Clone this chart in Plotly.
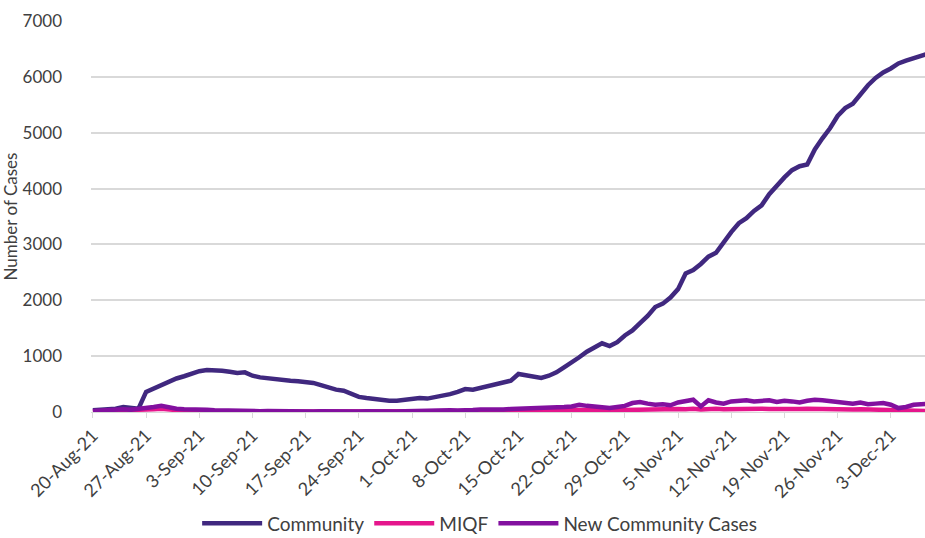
import pandas as pd
import plotly.graph_objects as go

start_date = "2021-08-20"
n_days = 111
dates = pd.date_range(start_date, periods=n_days, freq="D")

community = [
    30, 40, 50, 60, 90, 70, 60,
    360, 420, 500, 560, 600, 640, 690,
    730, 750, 750, 740, 720, 700, 710,
    650, 620, 600, 580, 570, 560, 550,
    540, 520, 480, 430, 400, 380, 320,
    270, 250, 230, 220, 200, 200, 220,
    240, 250, 240, 260, 290, 320, 360,
    410, 400, 430, 460, 490, 520, 560,
    680, 650, 620, 610, 650, 710, 800,
    880, 980, 1080, 1150, 1230, 1180, 1250,
    1370, 1460, 1590, 1720, 1880, 1940, 2050,
    2200, 2480, 2540, 2650, 2780, 2850, 3050,
    3220, 3380, 3470, 3600, 3700, 3900, 4060,
    4200, 4330, 4400, 4430, 4700, 4900, 5080,
    5300, 5440, 5520, 5700, 5850, 5980, 6080,
    6150, 6240, 6290, 6330, 6390, 6420,
]

miqf = [
    10, 15, 20, 15, 20, 15, 20,
    30, 50, 60, 40, 30, 20, 15,
    10, 10, 5, 5, 5, 5, 5,
    5, 5, 5, 5, 5, 5, 5,
    5, 5, 5, 5, 5, 5, 5,
    5, 5, 5, 5, 5, 5, 5,
    5, 10, 5, 10, 10, 15, 10,
    15, 10, 15, 20, 15, 20, 20,
    25, 20, 30, 25, 30, 35, 30,
    35, 40, 35, 30, 35, 30, 35,
    40, 45, 40, 50, 45, 55, 50,
    55, 50, 60, 45, 55, 60, 50,
    55, 60, 50, 55, 60, 55, 50,
    55, 50, 55, 60, 55, 50, 55,
    50, 55, 45, 50, 45, 40, 45,
    20, 15, 20, 15, 20, 15,
]

new_community = [
    20, 30, 40, 30, 50, 40, 50,
    60, 90, 110, 80, 60, 50, 40,
    50, 40, 30, 25, 20, 20, 25,
    20, 15, 20, 15, 20, 15, 10,
    15, 10, 15, 10, 10, 15, 10,
    10, 15, 10, 10, 15, 10, 15,
    20, 15, 20, 25, 20, 30, 25,
    40, 35, 45, 40, 50, 45, 55,
    60, 55, 65, 70, 60, 80, 90,
    100, 130, 110, 90, 80, 70, 90,
    110, 160, 180, 150, 130, 140, 120,
    170, 200, 220, 100, 210, 170, 150,
    190, 200, 210, 190, 200, 210, 180,
    200, 190, 170, 200, 220, 210, 200,
    180, 160, 150, 170, 140, 150, 160,
    130, 70, 90, 130, 140, 150,
]

series_names = ["Community", "MIQF", "New Community Cases"]
series_colors = ["#40287f", "#e5168c", "#82109f"]
y_title = "Number of Cases"

fig = go.Figure()
for name, vals, col in zip(series_names, [community, miqf, new_community], series_colors):
    fig.add_trace(go.Scatter(
        x=dates, y=vals, mode="lines", name=name,
        line=dict(color=col, width=4.5),
    ))

font_family = "Lato, 'Open Sans', sans-serif"
text_color = "#404040"

fig.update_layout(
    width=925, height=538,
    margin=dict(l=91, r=0, t=21, b=126, autoexpand=False),
    paper_bgcolor="white", plot_bgcolor="white",
    font=dict(family=font_family, color=text_color, size=15),
    showlegend=True,
    legend=dict(
        orientation="h", x=0.466, xanchor="center", y=-0.285, yanchor="middle",
        font=dict(size=19, color=text_color), itemwidth=60,
    ),
)

fig.update_xaxes(
    type="date",
    range=[pd.Timestamp(start_date) - pd.Timedelta(hours=6),
           pd.Timestamp(start_date) + pd.Timedelta(days=109.5)],
    tick0=start_date, dtick=7 * 24 * 3600 * 1000,
    tickformat="%-d-%b-%y", tickangle=-45,
    showgrid=False, showline=True, linecolor="#d9d9d9", linewidth=1,
    ticks="outside", ticklen=5, tickcolor="#d9d9d9",
    tickfont=dict(size=18, color=text_color),
    zeroline=False, automargin=False,
)

fig.update_yaxes(
    range=[0, 7000], dtick=1000,
    showgrid=True, gridcolor="#d9d9d9", gridwidth=1.5,
    zeroline=False, showline=False,
    tickfont=dict(size=17, color=text_color),
    ticklabelstandoff=28, automargin=False,
    title=dict(text=y_title, font=dict(size=17, color=text_color), standoff=2),
)

fig.write_html("out.html", config={"displayModeBar": False},
               post_script="document.body.style.margin='0';")
